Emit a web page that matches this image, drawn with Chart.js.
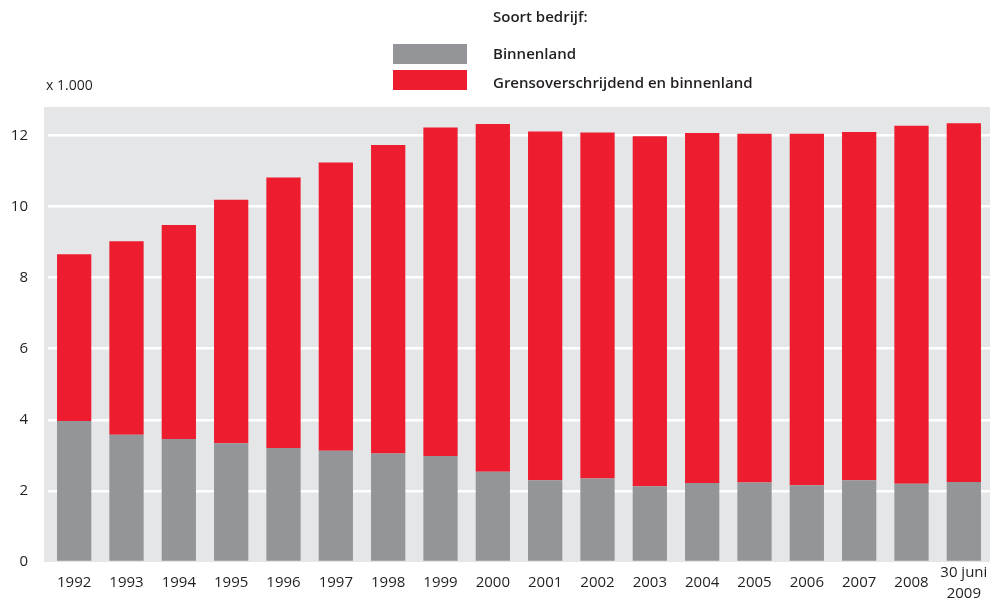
<!DOCTYPE html>
<html>
<head>
<meta charset="utf-8">
<script src="https://cdn.jsdelivr.net/npm/chart.js@4"></script>
<style>
  body { margin: 0; background: #fff; }
  #wrap { position: relative; width: 990px; height: 598px; font-family: "Open Sans", sans-serif; color: #231f20; }
  .txt { position: absolute; font-size: 15px; white-space: nowrap; line-height: 1; }
  .bold { font-weight: 600; }
  .box { position: absolute; left: 393px; width: 74px; height: 20px; }
</style>
</head>
<body>
<div id="wrap">
  <canvas id="chart" width="990" height="598"></canvas>
  <div class="txt bold" style="left:493px; top:9px;">Soort bedrijf:</div>
  <div class="box" style="top:44px; background:#939598;"></div>
  <div class="txt bold" style="left:493px; top:46px;">Binnenland</div>
  <div class="box" style="top:70px; background:#ed1c2e;"></div>
  <div class="txt bold" style="left:493px; top:75px;">Grensoverschrijdend en binnenland</div>
  <div class="txt" style="left:46px; top:78px; font-size:14px;">x 1.000</div>
</div>
<script>
// jaren (laatste categorie: stand per 30 juni 2009)
const labels = ['1992', '1993', '1994', '1995', '1996', '1997', '1998', '1999', '2000',
    '2001', '2002', '2003', '2004', '2005', '2006', '2007', '2008', ['30 juni', '2009']];

// aantallen x 1.000
const binnenland = [3.97, 3.58, 3.46, 3.34, 3.21, 3.13, 3.05, 2.98, 2.54,
    2.30, 2.35, 2.13, 2.22, 2.24, 2.16, 2.30, 2.20, 2.25];
const grensoverschrijdend = [4.69, 5.44, 6.02, 6.85, 7.61, 8.11, 8.68, 9.24, 9.78,
    9.81, 9.73, 9.85, 9.85, 9.81, 9.89, 9.80, 10.07, 10.09];

const yTicks = [0, 2, 4, 6, 8, 10, 12];

// grijze achtergrond van het grafiekvlak
const plotBackground = {
    id: 'plotBackground',
    beforeDraw(chart) {
        const { ctx, chartArea } = chart;
        ctx.save();
        ctx.fillStyle = '#e5e6e8';
        ctx.fillRect(chartArea.left - 4, chartArea.top, chartArea.right - chartArea.left + 4, chartArea.bottom - chartArea.top);
        ctx.restore();
    }
};

const ctx = document.getElementById('chart').getContext('2d');
new Chart(ctx, {
    type: 'bar',
    data: {
        labels: labels,
        datasets: [
            {
                label: 'Binnenland',
                data: binnenland,
                backgroundColor: '#939598'
            },
            {
                label: 'Grensoverschrijdend en binnenland',
                data: grensoverschrijdend,
                backgroundColor: '#ed1c2e'
            }
        ]
    },
    options: {
        responsive: false,
        devicePixelRatio: 1,
        animation: false,
        datasets: {
            bar: {
                barPercentage: 0.655,
                categoryPercentage: 1
            }
        },
        layout: {
            padding: { top: 107, left: 0, right: 0, bottom: 0 }
        },
        plugins: {
            legend: { display: false },
            tooltip: { enabled: false }
        },
        scales: {
            x: {
                stacked: true,
                grid: { display: false, drawTicks: false },
                border: { display: false },
                ticks: {
                    color: '#231f20',
                    font: { family: 'Open Sans', size: 15, lineHeight: 1.35 },
                    padding: 11,
                    crossAlign: 'center',
                    maxRotation: 0,
                    autoSkip: false
                },
                afterFit: (scale) => {
                    scale.height = 36;
                    scale.paddingLeft = 0;
                    scale.paddingRight = 0;
                }
            },
            y: {
                stacked: true,
                min: 0,
                max: 12.8,
                afterBuildTicks: (scale) => {
                    scale.ticks = yTicks.map(v => ({ value: v }));
                },
                grid: {
                    drawTicks: false,
                    color: (c) => c.tick && c.tick.value === 0 ? 'rgba(0,0,0,0)' : '#ffffff',
                    lineWidth: 2.5
                },
                border: { display: false },
                ticks: {
                    color: '#231f20',
                    font: { family: 'Open Sans', size: 15 },
                    padding: 20
                },
                afterFit: (scale) => { scale.width = 48; }
            }
        }
    },
    plugins: [plotBackground]
});
</script>
</body>
</html>
